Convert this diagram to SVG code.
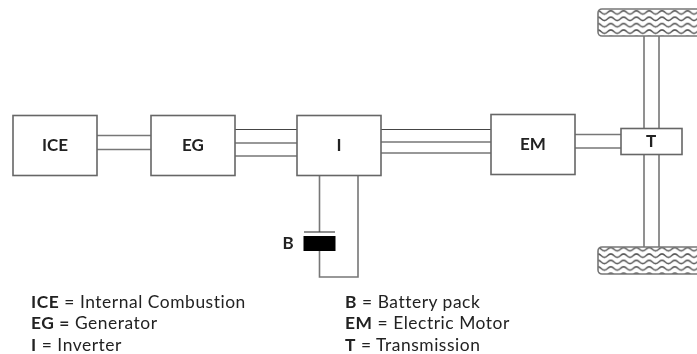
<svg xmlns="http://www.w3.org/2000/svg" width="697" height="354" viewBox="0 0 697 354">
<defs>
<pattern id="wave" width="12.800" height="6.400" patternUnits="userSpaceOnUse" x="598" y="9">
<path d="M-3.200 3.400 Q0 0 3.200 3.400 T9.600 3.400 T16 3.400" fill="none" stroke="#555" stroke-width="1.500"/>
</pattern>
<filter id="soft" x="-2%" y="-2%" width="104%" height="104%"><feGaussianBlur stdDeviation="0.4"/></filter>
</defs>
<style>
.box{fill:#fff;stroke:#666;stroke-width:1.6}
.ln{fill:none;stroke:#777;stroke-width:1.6}
.dk{fill:none;stroke:#444;stroke-width:1.2}
.wheel{fill:url(#wave);stroke:#777;stroke-width:1.6}
text{font-family:"Lato","Noto Sans","DejaVu Sans",sans-serif;fill:#222}
.lb{font-size:17px;font-weight:700;text-anchor:middle}
.lg{font-size:17.400px;letter-spacing:.55px}
.lg tspan{font-weight:700}
</style>
<rect width="697" height="354" fill="#fff"/>
<g id="connectors" filter="url(#soft)">
<path class="ln" d="M97 135.500H151M97 149.500H151"/>
<path class="dk" d="M235 129.500H297"/>
<path class="ln" d="M235 143H297M235 156H297"/>
<path class="dk" d="M381 129.500H491"/>
<path class="ln" d="M381 142H491M381 153H491"/>
<path class="ln" d="M575 134.500H621M575 148H621"/>
<path class="ln" d="M644 36V128M659 36V128M644 154V247M659 154V247"/>
<path class="ln" d="M319.500 175V232M319.500 251V277H358V175"/>
<path class="dk" d="M304 232H335"/>
</g>
<g id="node-ice" filter="url(#soft)"><rect class="box" x="13" y="115.500" width="84" height="60"/><text class="lb" x="55" y="151">ICE</text></g>
<g id="node-eg" filter="url(#soft)"><rect class="box" x="151" y="115.500" width="84" height="60"/><text class="lb" x="193" y="151">EG</text></g>
<g id="node-i" filter="url(#soft)"><rect class="box" x="297" y="115.500" width="84" height="60"/><text class="lb" x="339" y="151">I</text></g>
<g id="node-em" filter="url(#soft)"><rect class="box" x="491" y="114.500" width="84" height="60"/><text class="lb" x="533" y="150">EM</text></g>
<g id="node-t" filter="url(#soft)"><rect class="box" x="621" y="128.500" width="61" height="26"/><text class="lb" x="651" y="147">T</text></g>
<g id="node-b" filter="url(#soft)"><rect x="303.500" y="236" width="32" height="15" fill="#000"/><text class="lb" x="288" y="249">B</text></g>
<g id="wheel-top" filter="url(#soft)"><rect class="wheel" x="598" y="9" width="110" height="27" rx="4"/></g>
<g id="wheel-bottom" filter="url(#soft)"><rect class="wheel" x="598" y="247" width="110" height="27" rx="4"/></g>
<g id="legend" filter="url(#soft)">
<text class="lg" x="31" y="307.500"><tspan>ICE</tspan> = Internal Combustion</text>
<text class="lg" x="31" y="329"><tspan>EG =</tspan> Generator</text>
<text class="lg" x="31" y="350.500"><tspan>I</tspan> = Inverter</text>
<text class="lg" x="345" y="307.500"><tspan>B</tspan> = Battery pack</text>
<text class="lg" x="345" y="329"><tspan>EM</tspan> = Electric Motor</text>
<text class="lg" x="345" y="350.500"><tspan>T</tspan> = Transmission</text>
</g>
</svg>
